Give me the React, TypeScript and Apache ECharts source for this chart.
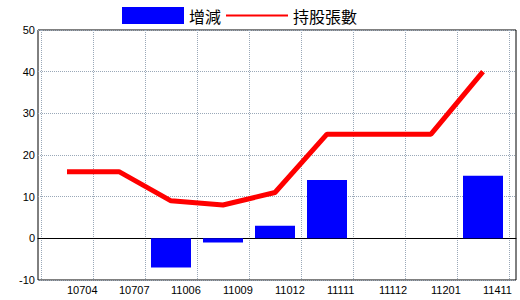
import React, { useEffect, useRef } from "react";
import * as echarts from "echarts";

const categories = ["10704", "10707", "11006", "11009", "11012", "11111", "11112", "11201", "11411"];
const changeValues = [0, 0, -7, -1, 3, 14, 0, 0, 15];
const holdingValues = [16, 16, 9, 8, 11, 25, 25, 25, 40];
const yTicks = { min: -10, max: 50, interval: 10 };

export default function App() {
  const ref = useRef<HTMLDivElement>(null);
  useEffect(() => {
    const chart = echarts.init(ref.current!, null, { renderer: "svg" });
    const font = "'Liberation Sans', Arial, sans-serif";
    chart.setOption({
      animation: false,
      backgroundColor: "#ffffff",
      legend: {
        left: 117,
        top: 2,
        itemWidth: 62,
        itemHeight: 17,
        itemGap: 5,
        textStyle: { fontSize: 16, color: "#000", fontFamily: "'Noto Sans CJK TC', sans-serif" },
        data: [
          { name: "增減", icon: "rect" },
          { name: "持股張數", icon: "path://M0,0 H60 V2 H0 Z" },
        ],
      },
      grid: [
        { left: 41, width: 468, top: 30, height: 250 },
        { left: 38, width: 478, top: 30, height: 250, show: true, borderColor: "#000", borderWidth: 1, backgroundColor: "transparent" },
      ],
      xAxis: [
        {
          type: "category",
          gridIndex: 0,
          data: categories,
          boundaryGap: true,
          axisLine: { show: false, onZero: false },
          axisTick: { show: false },
          axisLabel: { align: "left", margin: 4, fontSize: 11, color: "#000", fontFamily: font, interval: 0 },
          splitLine: { show: true, interval: 0, lineStyle: { type: "dotted", color: "#9aa8b8", width: 1 } },
        },
        {
          type: "value",
          gridIndex: 1,
          min: 0,
          max: 1,
          axisLine: { show: true, onZero: true, lineStyle: { color: "#000", width: 1 } },
          axisTick: { show: false },
          axisLabel: { show: false },
          splitLine: { show: false },
        },
      ],
      yAxis: [
        {
          type: "value",
          gridIndex: 0,
          min: yTicks.min,
          max: yTicks.max,
          interval: yTicks.interval,
          axisLine: { show: false },
          axisTick: { show: false },
          axisLabel: { show: false },
          splitLine: { show: false },
        },
        {
          type: "value",
          gridIndex: 1,
          min: yTicks.min,
          max: yTicks.max,
          interval: yTicks.interval,
          axisLine: { show: false },
          axisTick: { show: false },
          axisLabel: { margin: 3, fontSize: 11, color: "#000", fontFamily: font },
          splitLine: { show: true, lineStyle: { type: "dotted", color: "#9aa8b8", width: 1 } },
        },
      ],
      series: [
        {
          name: "增減",
          type: "bar",
          xAxisIndex: 0,
          yAxisIndex: 0,
          data: changeValues,
          barWidth: 40,
          itemStyle: { color: "#0000ff" },
        },
        {
          name: "持股張數",
          type: "line",
          xAxisIndex: 0,
          yAxisIndex: 0,
          data: holdingValues,
          symbol: "none",
          lineStyle: { color: "#ff0000", width: 5 },
          itemStyle: { color: "#ff0000" },
        },
      ],
    });
    return () => chart.dispose();
  }, []);
  return <div ref={ref} style={{ width: 520, height: 300, position: "absolute", left: 0, top: 0 }} />;
}
